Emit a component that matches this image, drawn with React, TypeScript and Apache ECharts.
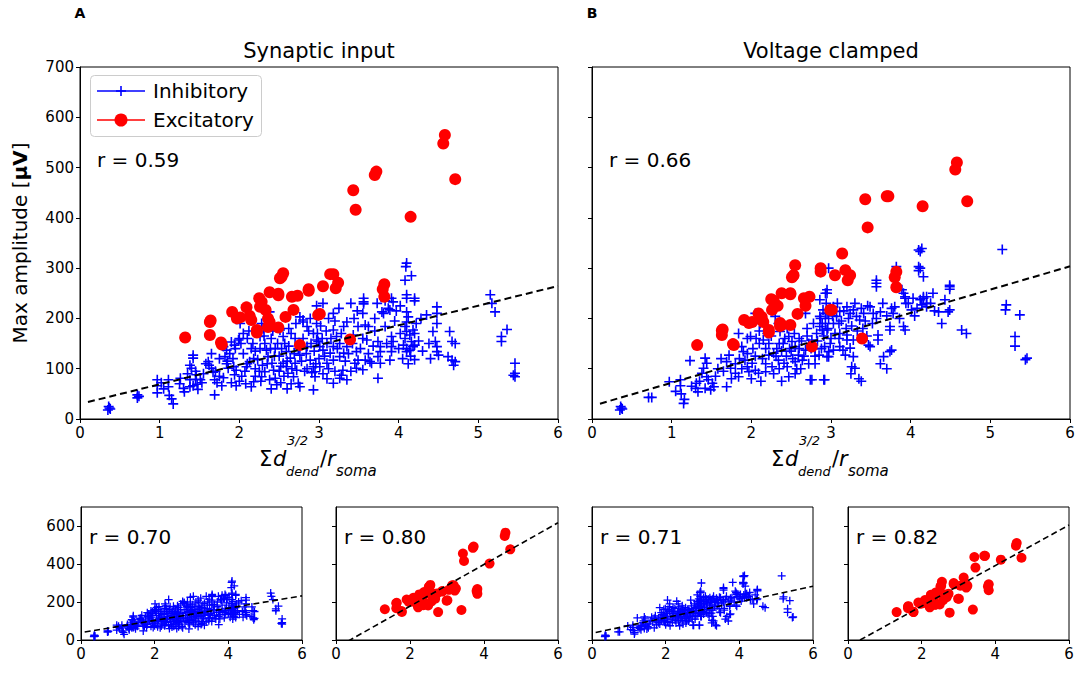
import React, { useEffect, useRef } from "react";
import * as echarts from "echarts";

const FONT = "DejaVu Sans";

const panelLetters = ["A", "B"];
const panelTitles = ["Synaptic input", "Voltage clamped"];
const rTop = ["r = 0.59", "r = 0.66"];
const rBottom = ["r = 0.70", "r = 0.80", "r = 0.71", "r = 0.82"];
const legendNames = ["Inhibitory", "Excitatory"];
const xTicksTop = [0, 1, 2, 3, 4, 5, 6];
const yTicksTop = [0, 100, 200, 300, 400, 500, 600, 700];
const xTicksBottom = [0, 2, 4, 6];
const yTicksBottom = [0, 200, 400, 600];

// Excitatory cells: shared x, amplitude in each condition
const excX = [
  1.32, 1.63, 1.64, 1.63, 1.77, 1.78, 1.91, 1.97, 2.01, 2.09, 2.13, 2.15, 2.22, 2.22, 2.25, 2.28, 2.26, 2.33,
  2.36, 2.38, 2.36, 2.38, 2.49, 2.49, 2.49, 2.51, 2.53, 2.55, 2.58, 2.66, 2.73, 2.68, 2.76, 2.87, 2.87, 2.99,
  3.01, 3.05, 3.14, 3.18, 3.24, 3.21, 3.39, 3.43, 3.46, 3.70, 3.72, 3.80, 3.82, 3.82, 4.15, 4.56, 4.58, 4.71,
];
const excYSynaptic = [
  162, 193, 196, 167, 152, 148, 213, 200, 202, 222, 205, 197, 177, 172, 240, 233, 223, 217,
  200, 193, 183, 252, 249, 246, 182, 280, 283, 290, 203, 243, 245, 217, 147, 255, 258, 207,
  209, 264, 288, 288, 271, 260, 158, 455, 416, 485, 492, 258, 268, 243, 402, 548, 565, 477,
];
const excYClamped = [
  147, 176, 178, 167, 149, 147, 197, 191, 193, 210, 203, 193, 177, 172, 238, 235, 217, 225,
  191, 187, 185, 250, 250, 248, 187, 282, 286, 306, 209, 240, 243, 225, 144, 300, 293, 217,
  217, 286, 329, 296, 286, 276, 160, 437, 381, 443, 443, 282, 293, 262, 423, 496, 510, 433,
];

// Inhibitory cells [x, amplitude]
const inhSynaptic = [
  [0.35, 18], [0.37, 22], [0.36, 25], [0.38, 20], [0.72, 48], [0.72, 42], [0.74, 45],
  [0.97, 78], [0.97, 66], [0.97, 52], [1.11, 78], [1.11, 64], [1.12, 47], [1.15, 40], [1.17, 30],
  [1.26, 81], [1.30, 61], [1.31, 54], [1.38, 78], [1.38, 64], [1.42, 127], [1.42, 121], [1.38, 107], [1.40, 101],
  [1.45, 95], [1.46, 88], [1.45, 79], [1.47, 69], [1.48, 59], [1.42, 66], [1.51, 78], [1.53, 72],
  [1.61, 114], [1.62, 107], [1.65, 101], [1.67, 93], [1.69, 78], [1.69, 48], [1.72, 72],
  [1.80, 144], [1.84, 137], [1.82, 124], [1.84, 110], [1.86, 101], [1.80, 82], [1.78, 66],
  [1.90, 153], [1.94, 147], [1.92, 120], [1.93, 104], [1.96, 97], [1.94, 88], [1.90, 72], [1.96, 66],
  [1.99, 157], [2.00, 160], [2.03, 85], [2.07, 95], [2.09, 104], [2.13, 114], [2.18, 120],
  [2.15, 64], [2.18, 74], [2.20, 85], [2.28, 190], [2.30, 180], [2.26, 164], [2.32, 150], [2.34, 137],
  [2.36, 124], [2.29, 107], [2.32, 94], [2.28, 84], [2.41, 111], [2.43, 97], [2.45, 81], [2.47, 68], [2.38, 78],
  [2.51, 177], [2.55, 164], [2.57, 150], [2.59, 134], [2.64, 121], [2.55, 111], [2.59, 104], [2.61, 91],
  [2.68, 84], [2.72, 97], [2.74, 71], [2.76, 64], [2.70, 111], [2.76, 127], [2.85, 144], [2.89, 117],
  [2.93, 104], [2.95, 84], [2.93, 58], [2.80, 193], [2.89, 200], [2.97, 190], [2.93, 170], [2.99, 154],
  [4.08, 276], [4.10, 247], [4.10, 240], [4.20, 235], [3.93, 233], [3.56, 233], [3.56, 229], [3.48, 215],
  [3.18, 210], [3.79, 213], [3.81, 210], [3.87, 220], [3.89, 217], [4.10, 213], [4.12, 203], [4.10, 193],
  [4.08, 184], [4.10, 174], [4.14, 167], [4.18, 177], [4.20, 170], [4.35, 207], [4.48, 223], [4.48, 210],
  [4.48, 190], [4.43, 174], [4.46, 154], [4.48, 144], [4.48, 134], [4.50, 127], [4.64, 174], [4.67, 154],
  [4.71, 150], [4.62, 124], [4.67, 117], [4.71, 114], [4.69, 107], [5.15, 247], [5.17, 230], [5.21, 213],
  [5.36, 178], [5.29, 164], [5.29, 154], [5.46, 111], [5.46, 91], [5.46, 84], [5.44, 87],
  [4.06, 147], [4.10, 140], [4.14, 137], [4.18, 144], [4.16, 154], [4.20, 147], [4.10, 134],
  [3.91, 164], [3.93, 154], [3.91, 144], [3.91, 134], [3.89, 117], [3.74, 154], [3.77, 144], [3.77, 134],
  [3.74, 124], [3.77, 111], [3.74, 81], [3.58, 187], [3.60, 157], [3.58, 117], [3.64, 114], [3.66, 111],
  [3.47, 134], [3.49, 117], [3.45, 111], [3.47, 101], [3.30, 97], [3.28, 87], [3.18, 71], [3.26, 81], [3.35, 78],
  [2.95, 94], [3.01, 104], [3.10, 111], [3.18, 117], [3.26, 124], [3.31, 131], [3.35, 144], [3.39, 157], [3.43, 167],
  [3.18, 177], [3.22, 164], [3.26, 150], [3.31, 184], [3.35, 193], [2.76, 203], [2.80, 197], [2.85, 184],
  [2.97, 157], [3.01, 144], [3.05, 137], [3.10, 150], [3.14, 131], [3.18, 144], [3.49, 184], [3.62, 184],
  [3.83, 184], [4.10, 310], [4.09, 303], [4.16, 285], [4.20, 240], [3.56, 240], [3.91, 240],
  [2.01, 190], [2.38, 213], [2.26, 140], [2.40, 160], [2.62, 180], [2.70, 160], [2.45, 140], [2.05, 130],
  [2.15, 140], [1.75, 120], [2.20, 100], [2.50, 95], [2.85, 100], [3.05, 90], [2.65, 70], [3.00, 120],
  [2.50, 125], [2.10, 110], [4.05, 120], [4.12, 110], [4.15, 125], [4.20, 118], [4.08, 160], [4.22, 190],
  [1.85, 115], [1.88, 130], [1.95, 140], [2.02, 150], [2.05, 170], [2.10, 160], [2.12, 175], [2.17, 150],
  [2.20, 135], [2.23, 118], [2.25, 95], [2.27, 75], [2.31, 165], [2.35, 110], [2.39, 140], [2.42, 175],
  [2.44, 125], [2.48, 150], [2.52, 105], [2.53, 140], [2.56, 85], [2.60, 115], [2.62, 145], [2.65, 170],
  [2.66, 100], [2.69, 130], [2.71, 190], [2.74, 140], [2.78, 115], [2.80, 160], [2.82, 95], [2.84, 130],
  [2.87, 175], [2.90, 150], [2.91, 92], [2.94, 135], [2.96, 110], [2.98, 170], [3.02, 185], [3.04, 160],
  [3.07, 125], [3.09, 175], [3.12, 100], [3.15, 160], [3.20, 195], [3.23, 140], [3.28, 170], [3.33, 115],
  [3.37, 130], [3.42, 150], [3.44, 200], [3.52, 140], [3.55, 160], [3.62, 130], [3.68, 145], [3.70, 175],
  [3.85, 150], [3.95, 195], [4.00, 140], [4.02, 170], [4.25, 155], [4.28, 200], [4.30, 135], [4.38, 150],
  [4.40, 120], [1.55, 90], [1.58, 110], [1.70, 95], [1.75, 85], [1.65, 130], [1.35, 90], [1.25, 70],
  [1.05, 60], [1.02, 72], [2.00, 75], [2.08, 70], [2.40, 60], [2.60, 60], [2.52, 72], [3.10, 80],
  [3.20, 95], [3.40, 95], [3.55, 98], [2.97, 225], [3.05, 230], [3.12, 200], [3.25, 220], [3.40, 230],
  [3.55, 210], [3.70, 200], [3.73, 230], [3.83, 235], [3.97, 215], [4.02, 225],
];

const inhClamped = [
  [0.35, 18], [0.37, 22], [0.36, 25], [0.38, 20], [0.71, 43], [0.75, 43], [0.97, 74],
  [1.11, 78], [1.11, 66], [1.12, 50], [1.16, 39], [1.15, 31], [1.23, 116], [1.30, 61], [1.33, 54], [1.31, 71],
  [1.42, 121], [1.44, 111], [1.40, 101], [1.38, 91], [1.44, 84], [1.46, 78], [1.51, 71], [1.53, 64], [1.42, 61], [1.49, 58],
  [1.69, 64], [1.72, 127], [1.69, 114], [1.74, 101], [1.80, 91], [1.84, 84],
  [1.84, 170], [1.88, 144], [1.90, 134], [1.92, 117], [1.95, 104], [1.97, 94], [2.01, 111], [2.05, 97], [2.09, 91],
  [1.95, 160], [1.99, 164], [2.05, 210], [2.11, 190],
  [2.15, 157], [2.18, 140], [2.22, 127], [2.28, 131], [2.32, 140], [2.34, 117], [2.26, 104], [2.18, 94],
  [2.41, 111], [2.45, 104], [2.47, 84], [2.30, 204], [2.34, 190], [2.36, 174],
  [2.47, 164], [2.51, 154], [2.55, 144], [2.59, 127], [2.64, 117], [2.55, 114], [2.68, 137], [2.72, 150],
  [2.76, 157], [2.82, 170], [2.89, 177], [2.93, 190], [2.97, 200], [2.93, 210], [2.89, 190], [2.68, 210],
  [2.74, 78], [2.76, 78], [2.91, 78], [2.85, 127], [2.95, 124], [2.97, 134], [2.93, 250],
  [2.95, 257], [2.95, 250], [3.91, 250], [3.93, 240], [3.94, 230], [3.80, 223], [3.78, 210],
  [4.12, 237], [4.16, 240], [4.20, 230], [4.14, 227], [4.08, 220], [4.01, 217], [4.20, 223],
  [4.49, 263], [4.49, 266], [4.43, 237], [4.35, 213], [4.47, 213], [4.49, 217], [4.39, 190], [4.64, 177], [4.70, 170],
  [5.20, 227], [5.19, 217], [5.37, 207], [5.31, 164], [5.31, 145], [5.46, 121], [5.44, 118],
  [2.86, 237], [2.90, 217], [2.86, 204], [2.95, 210], [3.03, 223], [3.07, 204], [3.11, 214], [3.20, 223],
  [3.24, 210], [3.28, 217], [3.32, 204], [3.36, 197], [3.41, 210], [3.49, 223], [3.53, 210], [3.62, 213],
  [2.86, 184], [2.95, 177], [3.03, 190], [3.11, 170], [3.20, 167], [3.28, 157], [3.20, 157], [3.11, 144],
  [3.03, 137], [3.15, 137], [3.18, 127], [3.24, 141], [3.28, 124], [3.26, 104], [3.30, 101],
  [2.92, 144], [2.97, 124], [2.92, 78], [3.47, 147], [3.49, 144], [3.59, 167], [3.59, 157],
  [3.66, 124], [3.74, 134], [3.76, 137], [3.74, 184], [3.74, 177], [3.91, 184], [3.93, 177], [3.76, 220],
  [4.10, 336], [4.12, 333], [4.14, 339], [4.10, 303], [4.12, 300], [4.10, 295], [4.16, 283], [5.15, 337],
  [2.97, 300], [3.57, 276], [3.57, 270], [3.57, 263], [3.82, 303], [3.89, 257], [3.93, 243], [4.16, 243],
  [4.20, 243], [4.49, 258],
  [2.40, 150], [2.60, 160], [2.70, 180], [2.50, 135], [2.20, 170], [2.10, 150], [2.62, 100], [2.80, 110],
  [3.00, 160], [3.10, 190], [2.45, 180], [2.05, 125], [1.80, 110], [2.35, 100], [2.80, 140], [3.40, 180], [3.45, 165],
  [1.85, 120], [1.88, 100], [1.95, 130], [2.02, 140], [2.06, 160], [2.10, 175], [2.14, 120], [2.18, 110],
  [2.22, 150], [2.25, 165], [2.28, 90], [2.31, 125], [2.35, 150], [2.38, 135], [2.42, 160], [2.44, 125],
  [2.48, 140], [2.52, 120], [2.54, 170], [2.57, 100], [2.60, 140], [2.63, 155], [2.66, 125], [2.70, 165],
  [2.72, 110], [2.75, 140], [2.78, 190], [2.80, 125], [2.83, 155], [2.87, 200], [2.88, 140], [2.91, 165],
  [2.94, 230], [2.96, 180], [2.99, 150], [3.02, 205], [3.05, 170], [3.08, 230], [3.10, 160], [3.13, 195],
  [3.16, 215], [3.19, 180], [3.22, 200], [3.26, 185], [3.30, 230], [3.33, 175], [3.38, 220], [3.43, 195],
  [3.46, 225], [3.52, 190], [3.57, 200], [3.65, 230], [3.70, 205], [3.86, 200], [3.97, 230], [4.03, 240],
  [4.05, 205], [4.25, 230], [4.28, 250], [4.30, 215], [1.55, 85], [1.58, 100], [1.62, 120], [1.65, 95],
  [1.75, 80], [1.35, 75], [1.25, 65], [1.05, 55], [2.00, 80], [2.12, 75], [2.38, 75], [2.55, 90],
  [3.35, 80], [3.38, 75], [3.25, 90], [3.62, 110], [3.70, 100],
];

// Linear fits per panel: top A, top B, bottom 1..4
const fitSlope = [39.1, 46.3, 32.3, 109.8, 41.3, 106.7];
const fitIntercept = [29.9, 25.8, 38.5, -41.7, 35.0, -35.0];
const fitRange = [0.1, 6];

const PLUS = "path://M4.2,0H5.8V4.2H10V5.8H5.8V10H4.2V5.8H0V4.2H4.2Z";
const BLUE = "#0000ff";
const RED = "#ff0000";

const grids = [
  { left: 80, top: 67, width: 478, height: 352 },
  { left: 592, top: 67, width: 478, height: 352 },
  { left: 81, top: 507, width: 221, height: 133 },
  { left: 336, top: 507, width: 222, height: 133 },
  { left: 592, top: 507, width: 221, height: 133 },
  { left: 848, top: 507, width: 221, height: 133 },
];

function buildOption() {
  const excSyn = excX.map((x, i) => [x, excYSynaptic[i]]);
  const excCl = excX.map((x, i) => [x, excYClamped[i]]);
  const panelData = [
    { inh: inhSynaptic, exc: excSyn },
    { inh: inhClamped, exc: excCl },
    { inh: inhSynaptic, exc: null },
    { inh: null, exc: excSyn },
    { inh: inhClamped, exc: null },
    { inh: null, exc: excCl },
  ];

  const xAxis = grids.map((_, i) => {
    const top = i < 2;
    const ticks = top ? xTicksTop : xTicksBottom;
    return {
      gridIndex: i,
      type: "value",
      min: ticks[0],
      max: ticks[ticks.length - 1],
      interval: ticks[1] - ticks[0],
      axisLine: { show: true, onZero: false, lineStyle: { color: "#000", width: 1 } },
      axisTick: { show: true, length: 4, lineStyle: { color: "#000" } },
      axisLabel: { color: "#000", fontSize: 15, fontFamily: FONT, margin: 6 },
      splitLine: { show: false },
    };
  });

  const yAxis = grids.map((_, i) => {
    const top = i < 2;
    const ticks = top ? yTicksTop : yTicksBottom;
    const showLabel = i === 0 || i === 2;
    return {
      gridIndex: i,
      type: "value",
      min: 0,
      max: 700,
      interval: ticks[1] - ticks[0],
      axisLine: { show: true, onZero: false, lineStyle: { color: "#000", width: 1 } },
      axisTick: { show: true, length: 4, lineStyle: { color: "#000" }, customValues: ticks },
      axisLabel: {
        show: showLabel,
        color: "#000",
        fontSize: 15,
        fontFamily: FONT,
        margin: 6,
        customValues: ticks,
      },
      splitLine: { show: false },
    };
  });

  const series: any[] = [];
  panelData.forEach((p, i) => {
    const top = i < 2;
    if (p.inh) {
      series.push({
        type: "scatter",
        xAxisIndex: i,
        yAxisIndex: i,
        data: p.inh,
        symbol: PLUS,
        symbolSize: top ? 10 : 8,
        itemStyle: { color: BLUE, opacity: 1 },
        z: 2,
        silent: true,
      });
    }
    if (p.exc) {
      series.push({
        type: "scatter",
        xAxisIndex: i,
        yAxisIndex: i,
        data: p.exc,
        symbol: "circle",
        symbolSize: top ? 12 : 10,
        itemStyle: { color: RED, opacity: 1 },
        z: 3,
        silent: true,
      });
    }
    series.push({
      type: "line",
      xAxisIndex: i,
      yAxisIndex: i,
      data: fitRange.map((x) => [x, fitIntercept[i] + fitSlope[i] * x]),
      symbol: "none",
      clip: true,
      lineStyle: { color: "#000", width: top ? 2 : 1.6, type: top ? [7, 4] : [6, 3.5] },
      z: 4,
      silent: true,
    });
  });

  const graphic: any[] = [];
  const topCenters = [319, 831];
  [0, 1].forEach((k) => {
    const g = grids[k];
    graphic.push({
      type: "text",
      style: { x: g.left, y: 13, text: panelLetters[k], fontSize: 14, fontWeight: "bold", fontFamily: FONT, fill: "#000", align: "center", verticalAlign: "middle" },
    });
    graphic.push({
      type: "text",
      style: { x: topCenters[k], y: 51, text: panelTitles[k], fontSize: 21, fontFamily: FONT, fill: "#000", align: "center", verticalAlign: "middle" },
    });
    graphic.push({
      type: "text",
      style: { x: g.left + 17, y: 160, text: rTop[k], fontSize: 20, fontFamily: FONT, fill: "#000", align: "left", verticalAlign: "middle" },
    });
    // x axis label: Σd_dend^{3/2} / r_soma
    const cx = topCenters[k];
    const base = { fontFamily: FONT, fill: "#000", verticalAlign: "middle", align: "left" };
    graphic.push({ type: "text", style: { ...base, x: cx - 60, y: 459, text: "Σ", fontSize: 21 } });
    graphic.push({ type: "text", style: { ...base, x: cx - 46, y: 459, text: "d", fontSize: 21, fontStyle: "italic" } });
    graphic.push({ type: "text", style: { ...base, x: cx - 32, y: 440, text: "3/2", fontSize: 13, fontStyle: "italic" } });
    graphic.push({ type: "text", style: { ...base, x: cx - 33, y: 471, text: "dend", fontSize: 13, fontStyle: "italic" } });
    graphic.push({ type: "text", style: { ...base, x: cx + 1, y: 459, text: "/", fontSize: 21 } });
    graphic.push({ type: "text", style: { ...base, x: cx + 8, y: 459, text: "r", fontSize: 21, fontStyle: "italic" } });
    graphic.push({ type: "text", style: { ...base, x: cx + 17, y: 471, text: "soma", fontSize: 15, fontStyle: "italic" } });
  });

  [2, 3, 4, 5].forEach((k, j) => {
    const g = grids[k];
    graphic.push({
      type: "text",
      style: { x: g.left + 8, y: 537, text: rBottom[j], fontSize: 20, fontFamily: FONT, fill: "#000", align: "left", verticalAlign: "middle" },
    });
  });

  // y axis label
  graphic.push({
    type: "text",
    x: 20,
    y: 243,
    rotation: Math.PI / 2,
    style: {
      x: 0,
      y: 0,
      text: "{n|Max amplitude [}{b|μV}{n|]}",
      align: "center",
      verticalAlign: "middle",
      rich: {
        n: { fontSize: 20, fontFamily: FONT, fill: "#000" },
        b: { fontSize: 20, fontFamily: FONT, fontWeight: "bold", fill: "#000" },
      },
    },
  });

  // legend
  graphic.push({
    type: "rect",
    shape: { x: 90.5, y: 75.5, width: 171, height: 61, r: 4 },
    style: { fill: "rgba(255,255,255,0.8)", stroke: "#cccccc", lineWidth: 1 },
    z: 10,
  });
  graphic.push({ type: "line", shape: { x1: 97, y1: 91, x2: 145, y2: 91 }, style: { stroke: BLUE, lineWidth: 1.5 }, z: 11 });
  graphic.push({ type: "line", shape: { x1: 121, y1: 86, x2: 121, y2: 96 }, style: { stroke: BLUE, lineWidth: 1.6 }, z: 11 });
  graphic.push({ type: "line", shape: { x1: 116, y1: 91, x2: 126, y2: 91 }, style: { stroke: BLUE, lineWidth: 1.6 }, z: 11 });
  graphic.push({ type: "line", shape: { x1: 97, y1: 120, x2: 145, y2: 120 }, style: { stroke: RED, lineWidth: 1.5 }, z: 11 });
  graphic.push({ type: "circle", shape: { cx: 121, cy: 120, r: 6.5 }, style: { fill: RED }, z: 11 });
  graphic.push({
    type: "text", z: 11,
    style: { x: 153, y: 91, text: legendNames[0], fontSize: 20, fontFamily: FONT, fill: "#000", align: "left", verticalAlign: "middle" },
  });
  graphic.push({
    type: "text", z: 11,
    style: { x: 153, y: 120, text: legendNames[1], fontSize: 20, fontFamily: FONT, fill: "#000", align: "left", verticalAlign: "middle" },
  });

  return {
    animation: false,
    backgroundColor: "#fff",
    grid: grids.map((g) => ({ ...g, show: true, borderColor: "#000", borderWidth: 1, backgroundColor: "transparent" })),
    xAxis,
    yAxis,
    series,
    graphic,
  };
}

export default function App() {
  const ref = useRef<HTMLDivElement>(null);
  useEffect(() => {
    if (!ref.current) return;
    const chart = echarts.init(ref.current, undefined, { renderer: "svg" });
    chart.setOption(buildOption() as any);
    return () => chart.dispose();
  }, []);
  return <div ref={ref} style={{ position: "fixed", left: 0, top: 0, width: 1085, height: 673, background: "#fff" }} />;
}
